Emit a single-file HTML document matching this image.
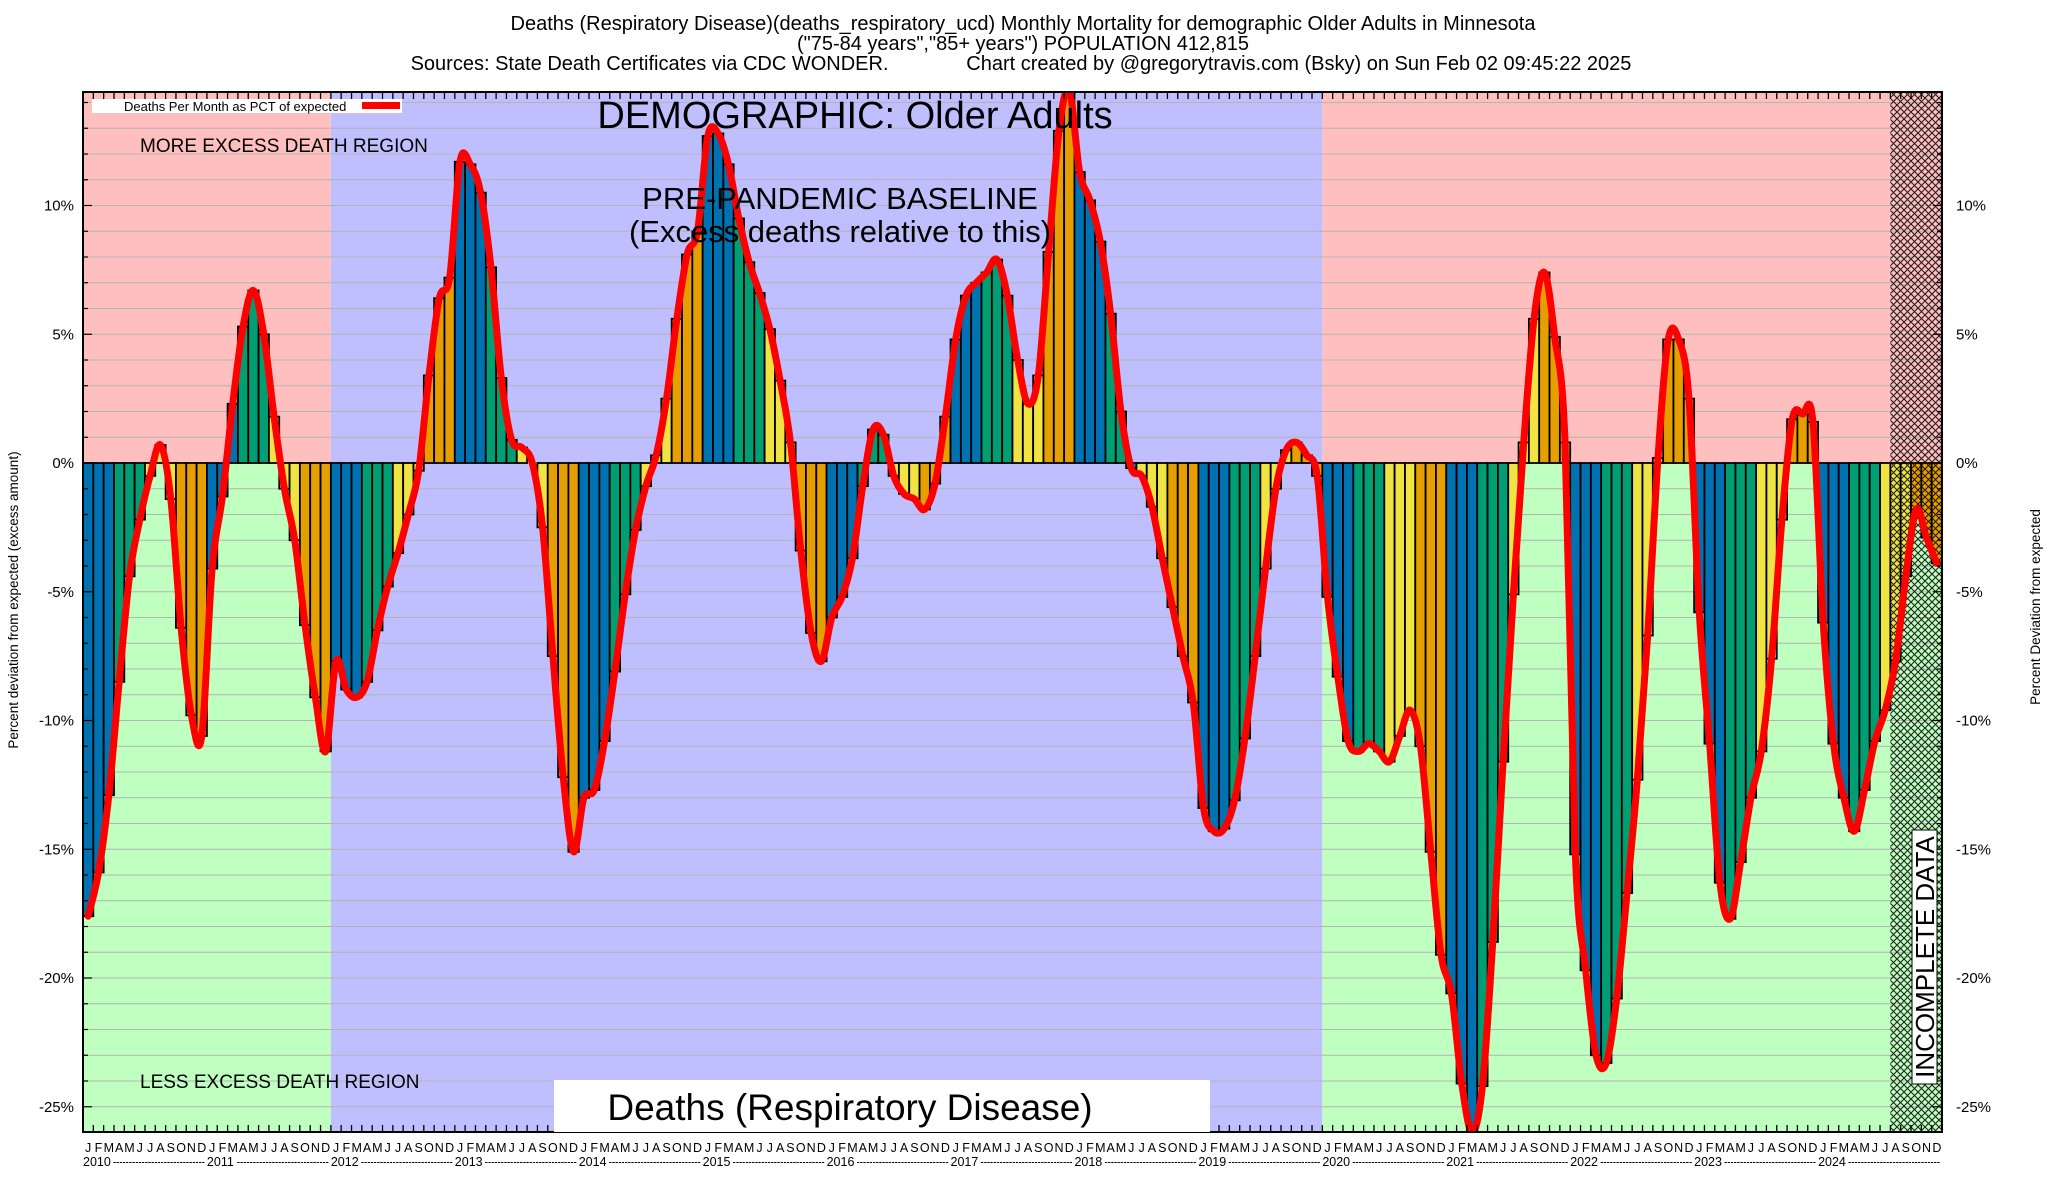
<!DOCTYPE html>
<html><head><meta charset="utf-8"><style>
html,body{margin:0;padding:0;background:#fff;}
svg{display:block;font-family:"Liberation Sans",sans-serif;}
</style></head><body>
<svg id="chart" width="2048" height="1200" viewBox="0 0 2048 1200" xmlns="http://www.w3.org/2000/svg">
<defs>
<pattern id="hatch" width="7" height="7" patternUnits="userSpaceOnUse">
<path d="M0,0L7,7M7,0L0,7" stroke="#000" stroke-width="1.1" opacity="0.85"/>
</pattern>
<clipPath id="plotclip"><rect x="83" y="92" width="1859" height="1040"/></clipPath>
</defs>
<g font-size="20" text-anchor="middle" fill="#000">
<text x="1023" y="30">Deaths (Respiratory Disease)(deaths_respiratory_ucd) Monthly Mortality for demographic Older Adults in Minnesota</text>
<text x="1023" y="50">("75-84 years","85+ years") POPULATION 412,815</text>
<text x="1021" y="70" xml:space="preserve">Sources: State Death Certificates via CDC WONDER.              Chart created by @gregorytravis.com (Bsky) on Sun Feb 02 09:45:22 2025</text>
</g>
<g id="bg"></g>
<g id="grid"></g>
<g id="bars" clip-path="url(#plotclip)"></g>
<g id="hatchg"></g>
<g id="line" clip-path="url(#plotclip)"></g>
<g id="axes"></g>
<g>
<rect x="92" y="99" width="310" height="14" fill="#fff"/>
<text x="124" y="111" font-size="13">Deaths Per Month as PCT of expected</text>
<rect x="362" y="102" width="38" height="7" fill="#ff0000"/>
<text x="140" y="152" font-size="19">MORE EXCESS DEATH REGION</text>
<text x="140" y="1088" font-size="19">LESS EXCESS DEATH REGION</text>
<text x="855" y="128" font-size="38" text-anchor="middle">DEMOGRAPHIC: Older Adults</text>
<text x="840" y="209" font-size="31" text-anchor="middle">PRE-PANDEMIC BASELINE</text>
<text x="840" y="242" font-size="31" text-anchor="middle">(Excess deaths relative to this)</text>
<rect x="554" y="1080" width="656" height="52" fill="#fff"/>
<text x="850" y="1120" font-size="37" text-anchor="middle">Deaths (Respiratory Disease)</text>
<rect x="1912" y="830" width="25" height="254" fill="#fff" stroke="#000" stroke-width="1"/>
<text transform="translate(1934,957) rotate(-90)" font-size="26" text-anchor="middle">INCOMPLETE DATA</text>
<text transform="translate(18,600) rotate(-90)" font-size="13.5" text-anchor="middle">Percent deviation from expected (excess amount)</text>
<text transform="translate(2040,607) rotate(-90)" font-size="13.5" text-anchor="middle">Percent Deviation from expected</text>
</g>
<g id="xlabels" font-size="12.5"></g>
</svg>
<script>
const years = [2010,2011,2012,2013,2014,2015,2016,2017,2018,2019,2020,2021,2022,2023,2024];
const monthLetters = ["J","F","M","A","M","J","J","A","S","O","N","D"];
const v2010 = [-17.6,-15.9,-12.9,-8.5,-4.4,-2.2,-0.5,0.7,-1.4,-6.4,-9.8,-10.6];
const v2011 = [-4.1,-1.3,2.3,5.3,6.7,5.0,1.8,-1.0,-3.0,-6.3,-9.1,-11.2];
const v2012 = [-7.7,-8.8,-9.1,-8.5,-6.5,-4.8,-3.5,-2.0,-0.3,3.4,6.4,7.2];
const v2013 = [11.7,11.6,10.5,7.6,3.3,0.9,0.6,0.0,-2.5,-7.5,-12.2,-15.1];
const v2014 = [-13.0,-12.7,-10.8,-8.1,-5.1,-2.6,-0.9,0.3,2.5,5.6,8.1,9.0];
const v2015 = [12.7,12.8,11.6,9.5,7.8,6.6,5.2,3.2,0.8,-3.4,-6.6,-7.7];
const v2016 = [-6.0,-5.2,-3.7,-0.9,1.3,1.1,-0.5,-1.2,-1.4,-1.8,-0.8,1.8];
const v2017 = [4.8,6.5,7.0,7.4,7.9,6.5,4.0,2.3,3.4,8.2,12.9,14.5];
const v2018 = [11.3,10.2,8.6,5.8,2.0,-0.2,-0.5,-1.7,-3.7,-5.6,-7.5,-9.3];
const v2019 = [-13.4,-14.3,-14.2,-13.1,-10.7,-7.5,-4.1,-1.0,0.5,0.8,0.3,-0.5];
const v2020 = [-5.2,-8.3,-10.8,-11.2,-10.9,-11.2,-11.6,-10.6,-9.6,-11.0,-15.1,-19.1];
const v2021 = [-20.6,-24.1,-26.0,-24.2,-18.6,-11.6,-5.1,0.8,5.6,7.4,4.9,0.8];
const v2022 = [-15.2,-19.7,-23.0,-23.3,-20.8,-16.7,-12.3,-6.7,0.2,4.8,4.8,2.5];
const v2023 = [-5.8,-10.9,-16.3,-17.7,-15.5,-13.0,-11.2,-7.6,-2.2,1.7,1.9,1.6];
const v2024 = [-6.2,-10.9,-13.0,-14.3,-12.7,-10.8,-9.6,-7.7,-4.4,-1.8,-2.9,-3.9];
const yTicks = [10,5,0,-5,-10,-15,-20,-25];
const yTickLabels = ["10%","5%","0%","-5%","-10%","-15%","-20%","-25%"];
const incompleteFromMonth = 175;

const values = [].concat(v2010,v2011,v2012,v2013,v2014,v2015,v2016,v2017,v2018,v2019,v2020,v2021,v2022,v2023,v2024);
const NS = "http://www.w3.org/2000/svg";
const L = 83, R = 1942, T = 92, B = 1132;
const N = values.length;
const mw = (R - L) / N;
const Y0 = 463, PX = 25.75;
function xs(i){ return L + i * mw; }
function ys(v){ return Y0 - v * PX; }
function mk(tag, attrs, parent){ const e = document.createElementNS(NS, tag); for (const k in attrs) e.setAttribute(k, attrs[k]); parent.appendChild(e); return e; }

const bg = document.getElementById('bg');
const segs = [[0,24,'rg'],[24,120,'b'],[120,N,'rg']];
segs.forEach(s => {
  const x0 = xs(s[0]), x1 = xs(s[1]);
  if (s[2] === 'b') {
    const r = mk('rect', {x:x0, y:T, width:x1-x0, height:B-T, fill:'#bfbfff'}, bg);
    
    
  } else {
    const p = mk('rect', {x:x0, y:T, width:x1-x0, height:Y0-T, fill:'#ffbfbf'}, bg);
    
    
    const g = mk('rect', {x:x0, y:Y0, width:x1-x0, height:B-Y0, fill:'#bfffbf'}, bg);
    
    
  }
});

const grid = document.getElementById('grid');
for (let p = 14; p >= -25; p--) {
  const y = ys(p);
  const gl = mk('line', {x1:L, x2:R, y1:y, y2:y, stroke:'#b4b4b4', 'stroke-width':1}, grid);
  
  
}

const colors = ['#0072b2','#009e73','#f0e442','#e69f00'];
const barsG = document.getElementById('bars');
values.forEach((v, i) => {
  const y = Math.min(ys(v), Y0), h = Math.abs(ys(v) - Y0);
  const r = mk('rect', {x:xs(i), y:y, width:mw, height:h, fill:colors[Math.floor((i % 12) / 3)], stroke:'#000', 'stroke-width':1.8}, barsG);
  
  
});

const hg = document.getElementById('hatchg');
const hr = mk('rect', {x:xs(incompleteFromMonth), y:T, width:R - xs(incompleteFromMonth), height:B-T, fill:'url(#hatch)'}, hg);



const pts = values.map((v, i) => [xs(i) + mw/2, ys(v)]);
let d = 'M' + pts[0][0] + ',' + pts[0][1];
for (let i = 0; i < pts.length - 1; i++) {
  const p0 = pts[Math.max(0, i-1)], p1 = pts[i], p2 = pts[i+1], p3 = pts[Math.min(pts.length-1, i+2)];
  const c1x = p1[0] + (p2[0]-p0[0])/6, c1y = p1[1] + (p2[1]-p0[1])/6;
  const c2x = p2[0] - (p3[0]-p1[0])/6, c2y = p2[1] - (p3[1]-p1[1])/6;
  d += ' C' + c1x + ',' + c1y + ' ' + c2x + ',' + c2y + ' ' + p2[0] + ',' + p2[1];
}
const path = mk('path', {d:d, fill:'none', stroke:'#ff0000', 'stroke-width':7, 'stroke-linejoin':'round', 'stroke-linecap':'round'}, document.getElementById('line'));



const ax = document.getElementById('axes');
const frame = mk('rect', {x:L, y:T, width:R-L, height:B-T, fill:'none', stroke:'#000', 'stroke-width':2}, ax);


for (let i = 0; i <= N; i++) {
  const x = xs(i);
  const t1 = mk('line', {x1:x, x2:x, y1:T, y2:T+7, stroke:'#000', 'stroke-width':1.3}, ax);
  
  
  const t2 = mk('line', {x1:x, x2:x, y1:B, y2:B-7, stroke:'#000', 'stroke-width':1.3}, ax);
  
  
}
for (let p = 14; p >= -25; p--) {
  const y = ys(p), len = (p % 5 === 0) ? 9 : 5;
  const a = mk('line', {x1:L, x2:L+len, y1:y, y2:y, stroke:'#000', 'stroke-width':1.2}, ax);
  
  
  const b = mk('line', {x1:R, x2:R-len, y1:y, y2:y, stroke:'#000', 'stroke-width':1.2}, ax);
  
  
}
yTicks.forEach((t, k) => {
  const l = mk('text', {x:74, y:ys(t)+5, 'font-size':15, 'text-anchor':'end'}, ax);
  l.textContent = yTickLabels[k];
  
  
  const r = mk('text', {x:1956, y:ys(t)+5, 'font-size':15, 'text-anchor':'start'}, ax);
  r.textContent = yTickLabels[k];
  
  
});

const xl = document.getElementById('xlabels');
for (let i = 0; i < N; i++) {
  const t = mk('text', {x:xs(i)+mw/2, y:1152, 'text-anchor':'middle'}, xl);
  t.textContent = monthLetters[i % 12];
  
  
}
years.forEach((yr, k) => {
  const x0 = xs(k*12);
  const t = mk('text', {x:x0, y:1166}, xl);
  t.textContent = String(yr);
  
  
  const dsh = mk('text', {x:x0+30, y:1166, textLength:12*mw-32, lengthAdjust:'spacingAndGlyphs'}, xl);
  dsh.textContent = '-----------------------------';
  
  
});
</script>
</body></html>
